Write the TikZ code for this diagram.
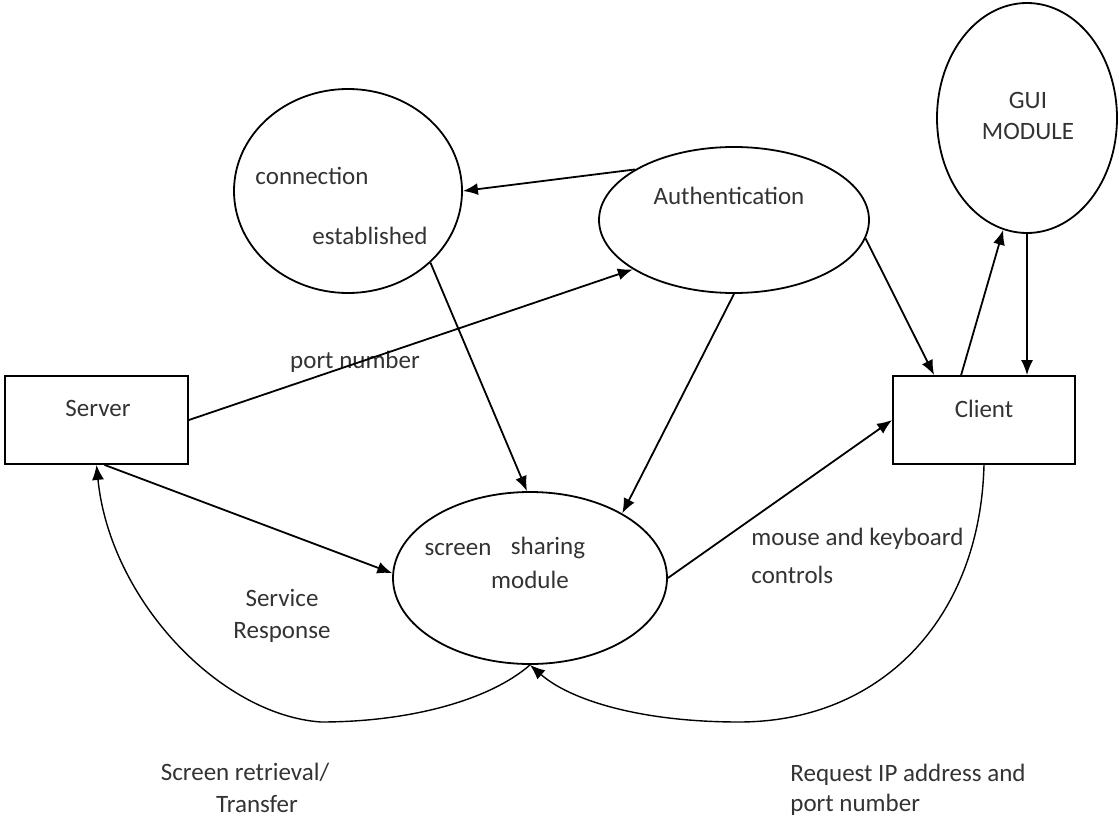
\documentclass[tikz,border=0pt]{standalone}
\usepackage{fontspec}
\setmainfont{Carlito}
\usetikzlibrary{shapes.geometric,arrows.meta}

\begin{document}
\begin{tikzpicture}[x=0.5pt,y=-0.5pt,
    proc/.style={ellipse,draw,line width=0.9pt,inner sep=0pt},
    entity/.style={rectangle,draw,line width=0.9pt,inner sep=0pt},
    lbl/.style={font=\fontsize{12.5}{16}\selectfont,text=black!80,inner sep=0pt},
    flow/.style={-{Latex[length=7.5pt,width=6pt]},line width=0.9pt},
    back/.style={flow,line width=0.7pt}]
  \useasboundingbox (0,0) rectangle (1119,829);

  % boxes and bubbles
  \node[entity,minimum width=91.5pt,minimum height=44pt] (server) at (96.5,420) {};
  \node[entity,minimum width=91pt,minimum height=44pt] (client) at (984,420) {};
  \node[proc,minimum width=114pt,minimum height=102pt] (conn) at (348,191) {};
  \node[proc,minimum width=135pt,minimum height=73pt] (auth) at (734,220) {};
  \node[proc,minimum width=90pt,minimum height=115pt] (gui) at (1027,118) {};
  \node[proc,minimum width=137pt,minimum height=86pt] (share) at (530,578) {};

  % texts
  \node[lbl] (t-server) at (98,408) {Server};
  \node[lbl] (t-client) at (984,409) {Client};
  \node[lbl] (t-conn1) at (312,176) {connection};
  \node[lbl] (t-conn2) at (370,236) {established};
  \node[lbl] (t-auth) at (729,196) {Authentication};
  \node[lbl,align=center,font=\fontsize{12.5}{15.5}\selectfont] (t-gui) at (1028,116) {GUI\\MODULE};
  \node[lbl] (t-share1) at (458,550) {screen};
  \node[lbl] (t-share2) at (548,548) {sharing};
  \node[lbl] (t-share3) at (530,580) {module};
  \node[lbl] (t-port) at (355,362) {port number};
  \node[lbl,align=left,anchor=west,font=\fontsize{12.5}{19}\selectfont] (t-mouse) at (751,556) {mouse and keyboard\\controls};
  \node[lbl,align=center] (t-service) at (282,616) {Service\\Response};
  \node[lbl,align=center] (t-screen) at (245,788) {Screen retrieval/\\\hspace*{12pt}Transfer};
  \node[lbl,align=left,anchor=west,font=\fontsize{12.5}{15}\selectfont] (t-request) at (790,790) {Request IP address and\\port number};

  % flows
  \draw[flow] (auth.153) -- (conn.east);
  \draw[flow] (server.east) -- (auth.206);
  \draw[flow] (conn.-41) -- (share.92);
  \draw[flow] (auth.south) -- (share.35);
  \draw[flow] (auth.-8) -- ([xshift=21pt]client.north west);
  \draw[flow] ([xshift=34.5pt]client.north west) -- (gui.258);
  \draw[flow] (gui.south) -- (gui.south |- client.north);
  \draw[flow] ([xshift=4pt]server.south) -- (share.178);
  \draw[flow] (share.east) -- (client.west);
  \draw[back] (share.south) .. controls (490,700) and (410,722) .. (321,722)
    .. controls (220,715) and (110,600) .. (server.south);
  \draw[back] (client.south) .. controls (980,620) and (880,722) .. (739,722)
    .. controls (640,722) and (570,700) .. (share.south);
\end{tikzpicture}
\end{document}
